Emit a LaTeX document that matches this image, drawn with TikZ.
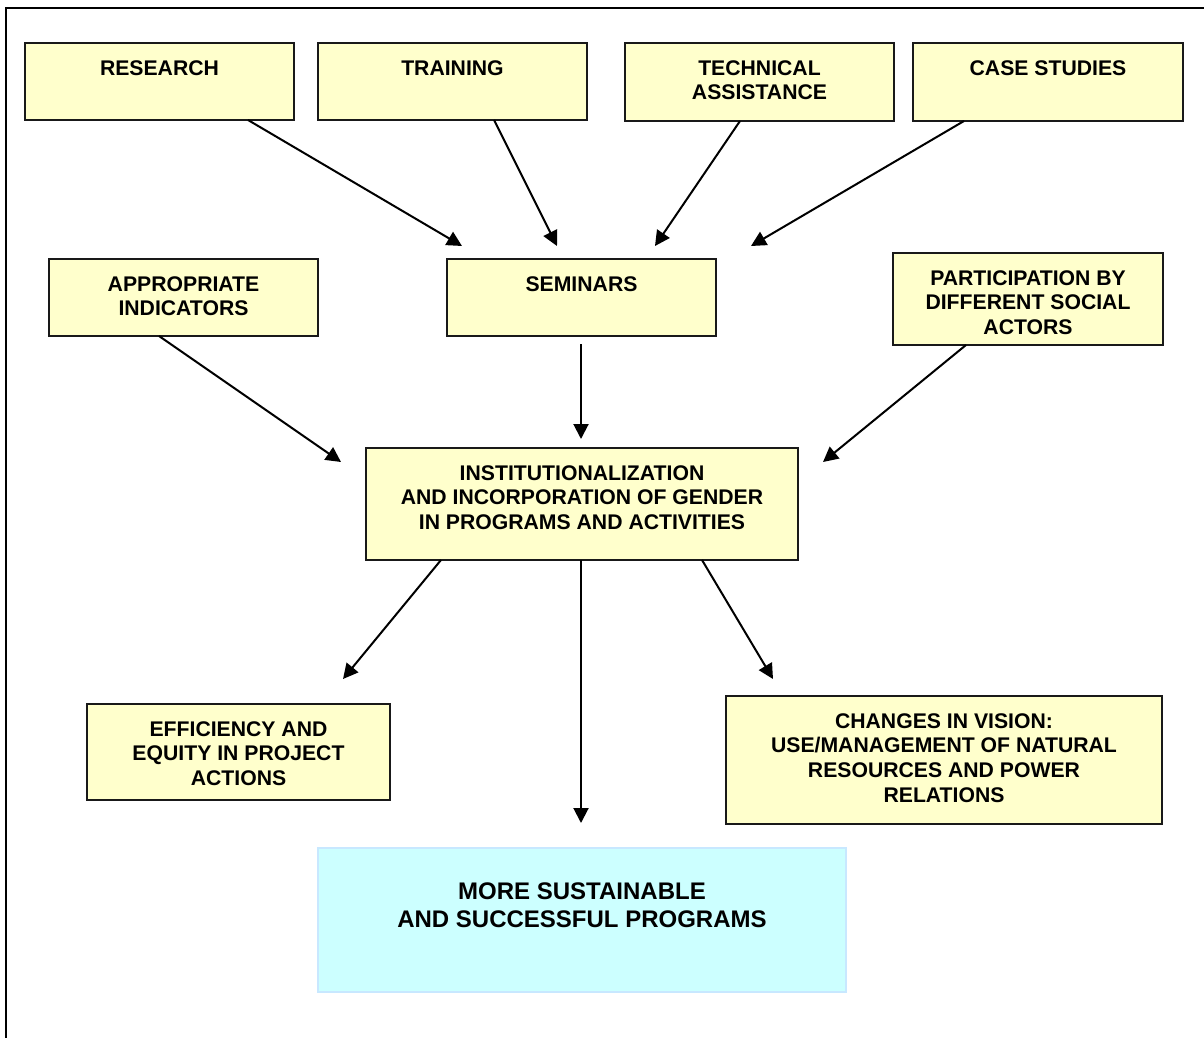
\documentclass[tikz,border=0pt]{standalone}
\usepackage{fontspec}
\setmainfont{Liberation Sans}
\usetikzlibrary{arrows.meta,calc}
\definecolor{boxyellow}{HTML}{FFFFCC}
\definecolor{boxcyan}{HTML}{CCFFFF}
\definecolor{cyanedge}{HTML}{C8E8FF}
\begin{document}
\begin{tikzpicture}[x=1pt,y=-1pt,
  box/.style={draw=black!90,line width=2.6pt,fill=boxyellow,anchor=north west,inner sep=0pt,outer sep=0pt},
  lbl/.style={font=\bfseries\fontsize{21.2}{24.6}\selectfont,align=center,anchor=north,inner sep=0pt,text=black,yshift=-17.3pt},
  biglbl/.style={font=\bfseries\fontsize{24}{28}\selectfont,align=center,anchor=north,inner sep=0pt,text=black,yshift=-34.2pt},
  arr/.style={line width=2pt,-{Triangle[length=15pt,width=15pt]}}]
\useasboundingbox (0,0) rectangle (1204,1038);
\draw[line width=2pt] (6,1038) -- (6,8) -- (1204,8);

% top row
\node[box,minimum width=269pt,minimum height=77pt,label={[lbl]north:RESEARCH}] (research) at (25,43) {};
\node[box,minimum width=269pt,minimum height=77pt,label={[lbl]north:TRAINING}] (training) at (318,43) {};
\node[box,minimum width=269pt,minimum height=78pt,label={[lbl]north:{TECHNICAL\\ASSISTANCE}}] (techassist) at (625,43) {};
\node[box,minimum width=270pt,minimum height=78pt,label={[lbl]north:{CASE STUDIES}}] (casestudies) at (913,43) {};

% second row
\node[box,minimum width=269pt,minimum height=77pt,label={[lbl]north:{APPROPRIATE\\INDICATORS}}] (indicators) at (49,259) {};
\node[box,minimum width=269pt,minimum height=77pt,label={[lbl]north:SEMINARS}] (seminars) at (447,259) {};
\node[box,minimum width=270pt,minimum height=92pt,label={[lbl]north:{PARTICIPATION BY\\DIFFERENT SOCIAL\\ACTORS}}] (participation) at (893,253) {};

% centre
\node[box,minimum width=432pt,minimum height=112pt,label={[lbl]north:{INSTITUTIONALIZATION\\AND INCORPORATION OF GENDER\\IN PROGRAMS AND ACTIVITIES}}] (inst) at (366,448) {};

% outcomes
\node[box,minimum width=303pt,minimum height=96pt,label={[lbl]north:{EFFICIENCY AND\\EQUITY IN PROJECT\\ACTIONS}}] (efficiency) at (87,704) {};
\node[box,minimum width=436pt,minimum height=128pt,label={[lbl]north:{CHANGES IN VISION:\\USE/MANAGEMENT OF NATURAL\\RESOURCES AND POWER\\RELATIONS}}] (changes) at (726,696) {};
\node[box,draw=cyanedge,fill=boxcyan,line width=2pt,minimum width=528pt,minimum height=144pt,label={[biglbl]north:{MORE SUSTAINABLE\\AND SUCCESSFUL PROGRAMS}}] (sustain) at (318,848) {};

% arrow tips
\coordinate (tipA) at (462,246);
\coordinate (tipB) at (557,246);
\coordinate (tipC) at (655,246);
\coordinate (tipD) at (751,246);
\coordinate (semout) at (581,344);
\coordinate (tipE) at (581,439);
\coordinate (tipF) at (341,462);
\coordinate (tipG) at (823,462);
\coordinate (tipH) at (343,679);
\coordinate (tipI) at (581,823);
\coordinate (tipJ) at (773,679);

\draw[arr] ($(research.south west)+(223,0)$) -- (tipA);
\draw[arr] ($(training.south west)+(176,0)$) -- (tipB);
\draw[arr] ($(techassist.south west)+(115,0)$) -- (tipC);
\draw[arr] ($(casestudies.south west)+(51,0)$) -- (tipD);
\draw[arr] (semout) -- (tipE);
\draw[arr] ($(indicators.south west)+(110,0)$) -- (tipF);
\draw[arr] ($(participation.south west)+(73,0)$) -- (tipG);
\draw[arr] ($(inst.south west)+(75,0)$) -- (tipH);
\draw[arr] ($(inst.south west)+(215,0)$) -- (tipI);
\draw[arr] ($(inst.south west)+(336,0)$) -- (tipJ);
\end{tikzpicture}
\end{document}
